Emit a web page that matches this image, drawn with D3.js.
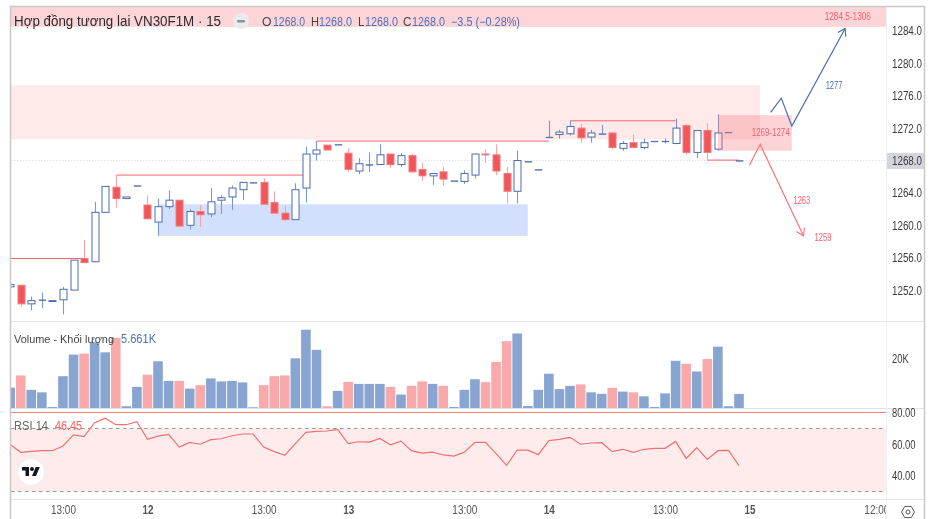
<!DOCTYPE html>
<html>
<head>
<meta charset="utf-8">
<script src="https://cdn.jsdelivr.net/npm/d3@7/dist/d3.min.js"></script>
<style>
  html, body { margin: 0; padding: 0; background: #fff; }
  svg { display: block; filter: blur(0.4px); font-family: "Liberation Sans", Arial, sans-serif; }
</style>
</head>
<body>
<svg id="chart" width="930" height="519"></svg>
<script>
// candles, first one is cut off by the left edge
var opens = [1252.4,1252.6,1250.3,1250.8,1250.6,1250.8,1252.0,1255.9,1255.5,1261.6,1264.7,1263.3,1264.9,1262.5,1260.4,1262.3,1263.1,1260.0,1261.7,1261.4,1263.1,1263.5,1264.4,1265.3,1265.3,1262.8,1261.5,1260.7,1264.6,1268.8,1269.9,1270.0,1268.9,1266.7,1267.5,1267.5,1268.8,1267.5,1268.6,1266.9,1266.1,1266.6,1265.5,1265.4,1266.2,1268.8,1268.7,1266.4,1264.2,1267.9,1266.9,1270.9,1271.2,1271.3,1272.0,1270.9,1271.3,1271.4,1269.5,1270.2,1269.6,1270.4,1270.4,1270.1,1272.3,1269.0,1271.7,1269.4,1271.5,1268.0]
var highs = [1252.7,1252.6,1251.2,1251.7,1250.7,1252.4,1255.7,1258.2,1262.9,1264.8,1266.2,1263.5,1264.9,1263.7,1263.3,1264.3,1263.1,1262.0,1262.5,1264.6,1263.7,1264.9,1265.3,1265.3,1265.8,1264.2,1262.4,1265.2,1269.7,1270.4,1269.9,1270.0,1269.5,1268.3,1269.0,1270.0,1268.8,1268.9,1268.8,1267.7,1266.4,1267.2,1265.5,1266.8,1268.8,1269.4,1270.0,1267.2,1269.2,1267.9,1266.9,1272.9,1271.8,1272.9,1272.5,1271.8,1272.4,1271.4,1270.4,1271.2,1270.7,1270.4,1270.7,1273.2,1272.5,1271.7,1272.6,1273.7,1271.5,1268.0]
var lows = [1252.4,1249.9,1249.5,1249.8,1250.6,1249.0,1252.0,1255.4,1255.5,1261.6,1262.2,1263.3,1264.9,1260.8,1258.7,1262.0,1259.9,1259.5,1259.8,1261.0,1261.4,1261.9,1263.1,1265.3,1262.6,1261.5,1260.5,1260.7,1262.8,1268.0,1269.3,1270.0,1266.6,1266.3,1266.6,1267.5,1267.1,1267.2,1266.5,1265.5,1265.0,1264.9,1265.5,1265.1,1265.8,1267.7,1266.2,1262.7,1262.7,1267.9,1266.9,1270.9,1270.7,1271.1,1270.2,1270.2,1271.3,1269.4,1269.2,1269.6,1269.4,1270.4,1270.1,1270.0,1268.7,1268.3,1268.0,1269.2,1271.5,1268.0]
var closes = [1252.7,1250.3,1250.7,1250.8,1250.7,1252.1,1255.7,1255.4,1261.6,1264.8,1263.3,1263.5,1264.9,1260.8,1262.3,1263.1,1259.9,1261.7,1261.3,1262.9,1263.4,1264.6,1265.3,1265.3,1262.6,1261.5,1260.7,1264.4,1268.8,1269.3,1269.3,1270.0,1266.9,1267.6,1267.5,1268.7,1267.5,1268.6,1266.6,1266.1,1266.4,1265.7,1265.5,1266.4,1268.8,1268.7,1266.7,1264.2,1268.0,1267.9,1266.9,1270.9,1271.5,1272.2,1270.8,1271.4,1271.3,1269.6,1270.1,1269.6,1270.2,1270.4,1270.4,1272.0,1269.0,1271.7,1269.0,1271.4,1271.5,1268.0]
var volumes = [8.2,13.1,7.3,6.3,0.4,12.8,21.5,21.9,26.5,22.4,28.2,0.7,8.5,13.4,18.8,10.9,10.9,7.8,9.2,11.9,10.7,10.9,10.3,0.3,9.2,12.8,13.1,20,31.5,23.4,0.7,6.9,10.5,9.7,9.7,9.7,8.5,5.4,8.9,10.7,9.7,8.9,0.4,7.3,11.6,10.4,18.5,26.9,30,0.8,7.3,13.8,7.6,8.9,9.5,6.3,5.7,8.1,6.6,6.3,4.7,0.4,5.9,19,17.8,14.7,19.7,24.7,0.7,5.661]
// volume colour does not always follow the candle, 1 = red bar
var volumeRed = [0,1,0,0,0,0,0,1,0,0,1,0,0,1,0,0,1,0,1,0,0,0,0,0,1,1,1,0,0,0,1,0,1,0,0,0,1,0,1,1,0,1,0,0,0,1,1,1,0,0,0,0,0,0,1,0,0,1,0,1,0,0,0,0,1,0,1,0,0,0]
var rsi = [59.9,54.9,55.5,55.9,55.9,58.9,65.9,64.8,73.7,76.5,72.4,72.4,74.3,63.1,65.2,66.3,58.2,61.2,60,62.9,63.5,65.4,66.5,66.5,58.2,55.3,53,60.4,67.6,68.2,68.4,69.5,60.4,61.6,61.4,63.7,59.7,62,55.9,54.4,55,53.2,52.5,55,61.2,61.2,54,46.6,56.3,56.3,53.4,62.3,63.1,64.4,60,60.8,61,55.3,56.8,54.9,56.8,57.4,57.4,61.8,51,57.8,50.4,55.9,56.1,46.45]

var priceTicks = [1284,1280,1276,1272,1268,1264,1260,1256,1252]
var volumeTicks = [20]
var rsiTicks = [80,60,40]
var timeTickBars = [5,13,24,32,43,51,62,70,82]
var timeTickLabels = ["13:00","12","13:00","13","13:00","14","13:00","15","12:00"]

// drawings, [from bar, to bar, price top, price bottom]
var zoneTop = [0,83,1306,1284.5]
var zoneSupply = [0,71,1277.3,1270.6]
var zoneDemand = [14,49,1262.6,1258.7]
var zoneSmall = [67,74,1273.6,1269.2]
var levelLines = [[-1,7,1255.9],[10,28,1266.2],[29,51,1270.4],[53,63,1272.9],[66,69,1268.05]]
var blueArrow = [[72,1273.95],[73,1275.7],[74,1272.25],[79.05,1284.3]]
var redArrow = [[70,1267.45],[71,1270],[75.1,1258.7]]
var drawingLabels = [["1284.5-1306",79.3,1285.8],["1269-1274",72,1271.45],["1263",74.95,1263.1],["1259",76.95,1258.55]]
var blueLabels = [["1277",78,1277.3]]

var blue = "#4a6db3", red = "#f2565a", volBlue = "#88a5d2", volRed = "#f9a9a9"
var plotLeft = 11, plotRight = 886, plotTop = 7, outer = 924, timeY = 499

var svg = d3.select("#chart")
var x = d3.scaleLinear().domain([0, 69]).range([10.14, 739])
var yPrice = d3.scaleLinear().domain([1252, 1284]).range([290.1, 30.9])
var yVol = d3.scaleLinear().domain([0, 20]).range([408, 358.3])
var yRsi = d3.scaleLinear().domain([30, 70]).range([491.5, 428.5])

var defs = svg.append("defs")
defs.append("clipPath").attr("id", "plot").append("rect")
    .attr("x", plotLeft).attr("y", plotTop).attr("width", plotRight - plotLeft).attr("height", timeY - plotTop)
function arrowMarker(id, color) {
    defs.append("marker").attr("id", id).attr("viewBox", "-10 -6 12 12").attr("refX", 0).attr("refY", 0)
        .attr("markerUnits", "userSpaceOnUse").attr("markerWidth", 12).attr("markerHeight", 12).attr("orient", "auto")
        .append("path").attr("d", "M-7,-4.5L0,0L-7,4.5").attr("fill", "none").attr("stroke", color).attr("stroke-width", 1.1)
}
arrowMarker("headBlue", blue)
arrowMarker("headRed", "#f8727a")

var plot = svg.append("g").attr("clip-path", "url(#plot)")

//------------- zones
function zone(z, color) {
    plot.append("rect").attr("x", x(z[0])).attr("y", yPrice(z[2]))
        .attr("width", x(z[1]) - x(z[0])).attr("height", yPrice(z[3]) - yPrice(z[2])).attr("fill", color)
}
zone(zoneTop, "#fdd5d8")
zone(zoneSupply, "#ffe9e9")
zone(zoneDemand, "#d3e0fd")

// last price line
plot.append("line").attr("x1", plotLeft).attr("x2", plotRight).attr("y1", yPrice(1268)).attr("y2", yPrice(1268))
    .attr("stroke", "#e3e3e3").attr("stroke-dasharray", "1.5 1.5")

//------------- level lines
plot.selectAll(".level").data(levelLines).join("line").attr("class", "level")
    .attr("x1", d => x(d[0])).attr("x2", d => x(d[1])).attr("y1", d => yPrice(d[2])).attr("y2", d => yPrice(d[2]))
    .attr("stroke", "#f8646c").attr("stroke-width", 1)

//------------- candles
var candles = closes.map((c, i) => ({ i: i, o: opens[i], h: highs[i], l: lows[i], c: c }))
var isUp = d => d.c >= d.o
var candle = plot.selectAll(".candle").data(candles).join("g").attr("class", "candle")
candle.append("line")
    .attr("x1", d => Math.round(x(d.i)) + 0.5).attr("x2", d => Math.round(x(d.i)) + 0.5)
    .attr("y1", d => yPrice(d.h)).attr("y2", d => yPrice(d.l))
    .attr("stroke", d => isUp(d) ? "#7d98cc" : "#f9a3a6").attr("stroke-width", 1.1)
candle.append("rect")
    .attr("x", d => Math.round(x(d.i)) - 3).attr("width", 7)
    .attr("y", d => yPrice(Math.max(d.o, d.c)))
    .attr("height", d => Math.max(0.9, Math.abs(yPrice(d.o) - yPrice(d.c))))
    .attr("fill", d => isUp(d) ? (d.c == d.o ? blue : "#fff") : red)
    .attr("stroke", d => isUp(d) ? blue : "#f37a7d").attr("stroke-width", d => d.c == d.o ? 0.4 : 1)

//------------- small zone and arrows on top of the candles
zone(zoneSmall, "rgba(248,120,130,0.33)")
var linePrice = d3.line().x(d => x(d[0])).y(d => yPrice(d[1]))
plot.append("path").attr("d", linePrice(blueArrow)).attr("fill", "none").attr("stroke", blue)
    .attr("stroke-width", 1.2).attr("marker-end", "url(#headBlue)")
plot.append("path").attr("d", linePrice(redArrow)).attr("fill", "none").attr("stroke", "#f8727a")
    .attr("stroke-width", 1.2).attr("marker-end", "url(#headRed)")
plot.selectAll(".drawLabel").data(drawingLabels).join("text").attr("class", "drawLabel")
    .attr("x", d => x(d[1])).attr("y", d => yPrice(d[2])).attr("dy", "0.35em").attr("text-anchor", "middle")
    .attr("font-size", 10).attr("fill", "#f8606a").attr("textLength", d => d[0].length * 4.2)
    .attr("lengthAdjust", "spacingAndGlyphs").text(d => d[0])
plot.selectAll(".blueLabel").data(blueLabels).join("text").attr("class", "blueLabel")
    .attr("x", d => x(d[1])).attr("y", d => yPrice(d[2])).attr("dy", "0.35em").attr("text-anchor", "middle")
    .attr("font-size", 10).attr("fill", blue).attr("textLength", d => d[0].length * 4.2)
    .attr("lengthAdjust", "spacingAndGlyphs").text(d => d[0])

//------------- volume
plot.selectAll(".vol").data(volumes).join("rect").attr("class", "vol")
    .attr("x", (d, i) => x(i) - 4.8).attr("width", 9.6)
    .attr("y", d => yVol(d)).attr("height", d => yVol(0) - yVol(d))
    .attr("fill", (d, i) => volumeRed[i] ? volRed : volBlue)

//------------- RSI
plot.append("rect").attr("x", plotLeft).attr("width", plotRight - plotLeft).attr("y", yRsi(70)).attr("height", yRsi(30) - yRsi(70)).attr("fill", "#feecec")
plot.selectAll(".rsiBand").data([70, 30]).join("line").attr("class", "rsiBand")
    .attr("x1", plotLeft).attr("x2", plotRight).attr("y1", d => yRsi(d)).attr("y2", d => yRsi(d))
    .attr("stroke", "#999").attr("stroke-dasharray", "3.5 3.5")
plot.append("line").attr("x1", plotLeft).attr("x2", plotRight).attr("y1", 412.5).attr("y2", 412.5).attr("stroke", "#f8847f").attr("stroke-width", 1.2)
plot.append("path").attr("d", d3.line().x((d, i) => x(i)).y(d => yRsi(d))(rsi))
    .attr("fill", "none").attr("stroke", "#f8706c").attr("stroke-width", 1.2)

//------------- frame and pane separators
var rule = "#e4e6ea"
svg.append("line").attr("x1", plotLeft).attr("x2", outer).attr("y1", 321.5).attr("y2", 321.5).attr("stroke", rule)
svg.append("line").attr("x1", plotLeft).attr("x2", outer).attr("y1", 408.5).attr("y2", 408.5).attr("stroke", "#e0e0ea")
svg.append("line").attr("x1", plotLeft).attr("x2", outer).attr("y1", timeY + 0.5).attr("y2", timeY + 0.5).attr("stroke", rule)
svg.append("line").attr("x1", plotRight + 0.5).attr("x2", plotRight + 0.5).attr("y1", plotTop).attr("y2", 519).attr("stroke", "#eef0f3")
svg.append("path").attr("d", "M10.5,519V6.5H924.5V519").attr("fill", "none").attr("stroke", "#c8c8c8").attr("stroke-width", 1.5)

//------------- axes
svg.append("rect").attr("x", plotRight + 1).attr("y", 153).attr("width", outer - plotRight - 1).attr("height", 16).attr("fill", "#d3d5dc")

function styleAxis(g, size, perChar) {
    g.select(".domain").remove()
    g.selectAll(".tick line").remove()
    g.selectAll(".tick text").attr("fill", "#3c3c3c").attr("font-size", size)
        .attr("textLength", function () { return this.textContent.length * perChar })
        .attr("lengthAdjust", "spacingAndGlyphs")
}
svg.append("g").attr("transform", "translate(" + (plotRight + 6) + ",0)")
    .call(d3.axisRight(yPrice).tickValues(priceTicks).tickSize(0).tickPadding(0).tickFormat(d3.format(".1f")))
    .attr("font-family", null).call(styleAxis, 12.5, 5)
svg.append("g").attr("transform", "translate(" + (plotRight + 6) + ",0)")
    .call(d3.axisRight(yVol).tickValues(volumeTicks).tickSize(0).tickPadding(0).tickFormat(d => d + "K"))
    .attr("font-family", null).call(styleAxis, 12.5, 5.6)
svg.append("g").attr("transform", "translate(" + (plotRight + 6) + ",0)")
    .call(d3.axisRight(yRsi).tickValues(rsiTicks).tickSize(0).tickPadding(0).tickFormat(d3.format(".2f")))
    .attr("font-family", null).call(styleAxis, 12.5, 4.7)

defs.append("clipPath").attr("id", "timeClip").append("rect")
    .attr("x", plotLeft).attr("y", timeY).attr("width", plotRight - plotLeft).attr("height", 20)
var timeAxis = svg.append("g").attr("clip-path", "url(#timeClip)").append("g")
    .attr("transform", "translate(0," + (timeY + 6) + ")")
    .call(d3.axisBottom(x).tickValues(timeTickBars).tickSize(0).tickPadding(0).tickFormat((d, i) => timeTickLabels[i]))
    .attr("font-family", null)
timeAxis.select(".domain").remove()
timeAxis.selectAll(".tick text").attr("font-size", 12.5).attr("fill", "#555")
    .attr("font-weight", (d, i) => timeTickLabels[i].includes(":") ? "normal" : "bold")
    .attr("textLength", (d, i) => timeTickLabels[i].length * (timeTickLabels[i].includes(":") ? 5 : 5.5))
    .attr("lengthAdjust", "spacingAndGlyphs")

// settings hexagon
svg.append("path").attr("d", d3.line().curve(d3.curveLinearClosed)(d3.range(6).map(k => [
    908 + 6.5 * Math.cos(k * Math.PI / 3), 512 + 6.5 * Math.sin(k * Math.PI / 3)])))
    .attr("fill", "none").attr("stroke", "#555").attr("stroke-width", 1)
svg.append("circle").attr("cx", 908).attr("cy", 512).attr("r", 2).attr("fill", "none").attr("stroke", "#555")

//------------- legends, [text, colour, x, width]
function legend(parts, yPos, size) {
    svg.selectAll(null).data(parts).join("text").attr("y", yPos).attr("font-size", size)
        .attr("x", d => d[2]).attr("fill", d => d[1]).attr("textLength", d => d[3])
        .attr("lengthAdjust", "spacingAndGlyphs").text(d => d[0])
}
legend([["Hợp đồng tương lai VN30F1M · 15", "#2b2b2b", 14, 207]], 26, 15)
svg.append("circle").attr("cx", 241).attr("cy", 21).attr("r", 8).attr("fill", "#ecebec")
svg.append("rect").attr("x", 237).attr("y", 20).attr("width", 8).attr("height", 2.4).attr("rx", 1).attr("fill", "#8e9096")
var ohlcBlue = "#4f70b8"
legend([["O", "#444", 262, 9.5], ["1268.0", ohlcBlue, 273, 32], ["H", "#444", 311, 8], ["1268.0", ohlcBlue, 319, 33],
    ["L", "#444", 358, 6.5], ["1268.0", ohlcBlue, 365, 33], ["C", "#444", 403, 8.5], ["1268.0", ohlcBlue, 412, 33],
    ["−3.5 (−0.28%)", ohlcBlue, 451, 69]], 25.5, 12)
legend([["Volume - Khối lượng", "#444", 14, 100]], 342.5, 11.5)
legend([["5.661K", ohlcBlue, 121, 35]], 342.5, 12.5)
legend([["RSI 14", "#666", 14, 34], ["46.45", "#f8605c", 55, 27]], 429.5, 12.5)

// tradingview badge
svg.append("circle").attr("cx", 31).attr("cy", 472).attr("r", 13.5).attr("fill", "#fff").attr("stroke", "#eceff2")
var logo = svg.append("g").attr("transform", "translate(22,465) scale(0.5)").attr("fill", "#131722")
logo.append("path").attr("d", "M14 22H7V11H0V4h14v18zM28 22h-8l7.5-18h8L28 22z")
logo.append("circle").attr("cx", 20).attr("cy", 8).attr("r", 4)
</script>
</body>
</html>
